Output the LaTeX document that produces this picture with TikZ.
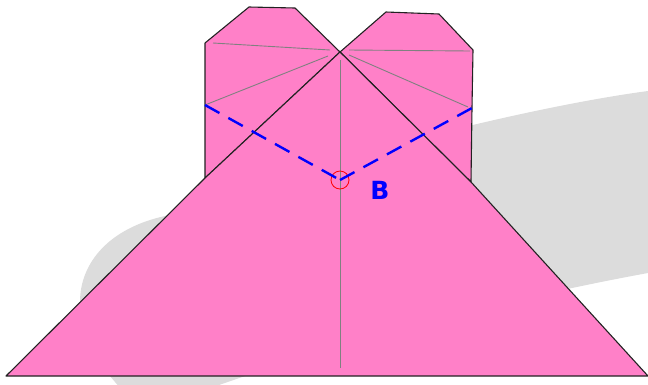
\documentclass[tikz,border=0pt]{standalone}
\usepackage{fontspec}
\setmainfont{DejaVu Sans}
\definecolor{pinkfill}{HTML}{FF80C8}
\definecolor{shadow}{HTML}{DCDCDC}
\definecolor{fold}{HTML}{808080}
\definecolor{edgeblk}{HTML}{222222}
\tikzset{
  paper/.style={fill=pinkfill,draw=edgeblk,line width=1.1pt,line join=round},
  foldline/.style={draw=fold,line width=0.9pt},
  valley/.style={draw=blue,line width=2.4pt,dash pattern=on 16.5pt off 10.2pt},
  marker/.style={circle,draw=red,line width=0.8pt,minimum size=18pt,inner sep=0pt},
  tag/.style={text=blue,font=\bfseries\fontsize{25}{25}\selectfont,inner sep=0pt}
}
\begin{document}
\begin{tikzpicture}[x=1pt,y=-1pt]
\useasboundingbox (0,0) rectangle (648,384);
\begin{scope}
\clip (0,0) rectangle (648,384);
\fill[shadow] (648,91) .. controls (520,108) and (300,165) .. (165,216)
  .. controls (110,228) and (80,262) .. (80,302)
  .. controls (80,335) and (95,360) .. (122,390)
  -- (205,390) .. controls (330,345) and (500,300) .. (648,273) -- cycle;
\end{scope}
\coordinate (apex) at (340,52);
\coordinate (lmid) at (205,105);
\coordinate (rmid) at (472,108);
\coordinate (lj) at (205,178);
\coordinate (rj) at (471,182);
\coordinate (bl) at (6,376);
\coordinate (br) at (648,376);
\coordinate (lf1) at (213,43);
\coordinate (lf1e) at (330,50);
\coordinate (lf2e) at (328,56);
\coordinate (rf1) at (349,50);
\coordinate (rf1e) at (470,51);
\coordinate (rf2) at (349,55);
\coordinate (rf2e) at (468,107);
\coordinate (cf1) at (340,60);
\coordinate (cf2) at (340,368);
\draw[paper] (apex) -- (295,8) -- (249,7) -- (205,43) -- (lmid) -- (lj) -- cycle;
\draw[paper] (apex) -- (386,12) -- (439,14) -- (473,50) -- (rmid) -- (rj) -- cycle;
\draw[foldline] (lf1) -- (lf1e);
\draw[foldline] (lmid) -- (lf2e);
\draw[foldline] (rf1) -- (rf1e);
\draw[foldline] (rf2) -- (rf2e);
\draw[paper] (apex) -- (rj) -- (br) -- (bl) -- (lj) -- cycle;
\draw[foldline] (cf1) -- (cf2);
\node[marker] (mark) at (340,180) {};
\draw[valley] (lmid) -- (mark.center);
\draw[valley] (mark.center) -- (rmid);
\node[tag] (b) at (380,190) {B};
\end{tikzpicture}
\end{document}
